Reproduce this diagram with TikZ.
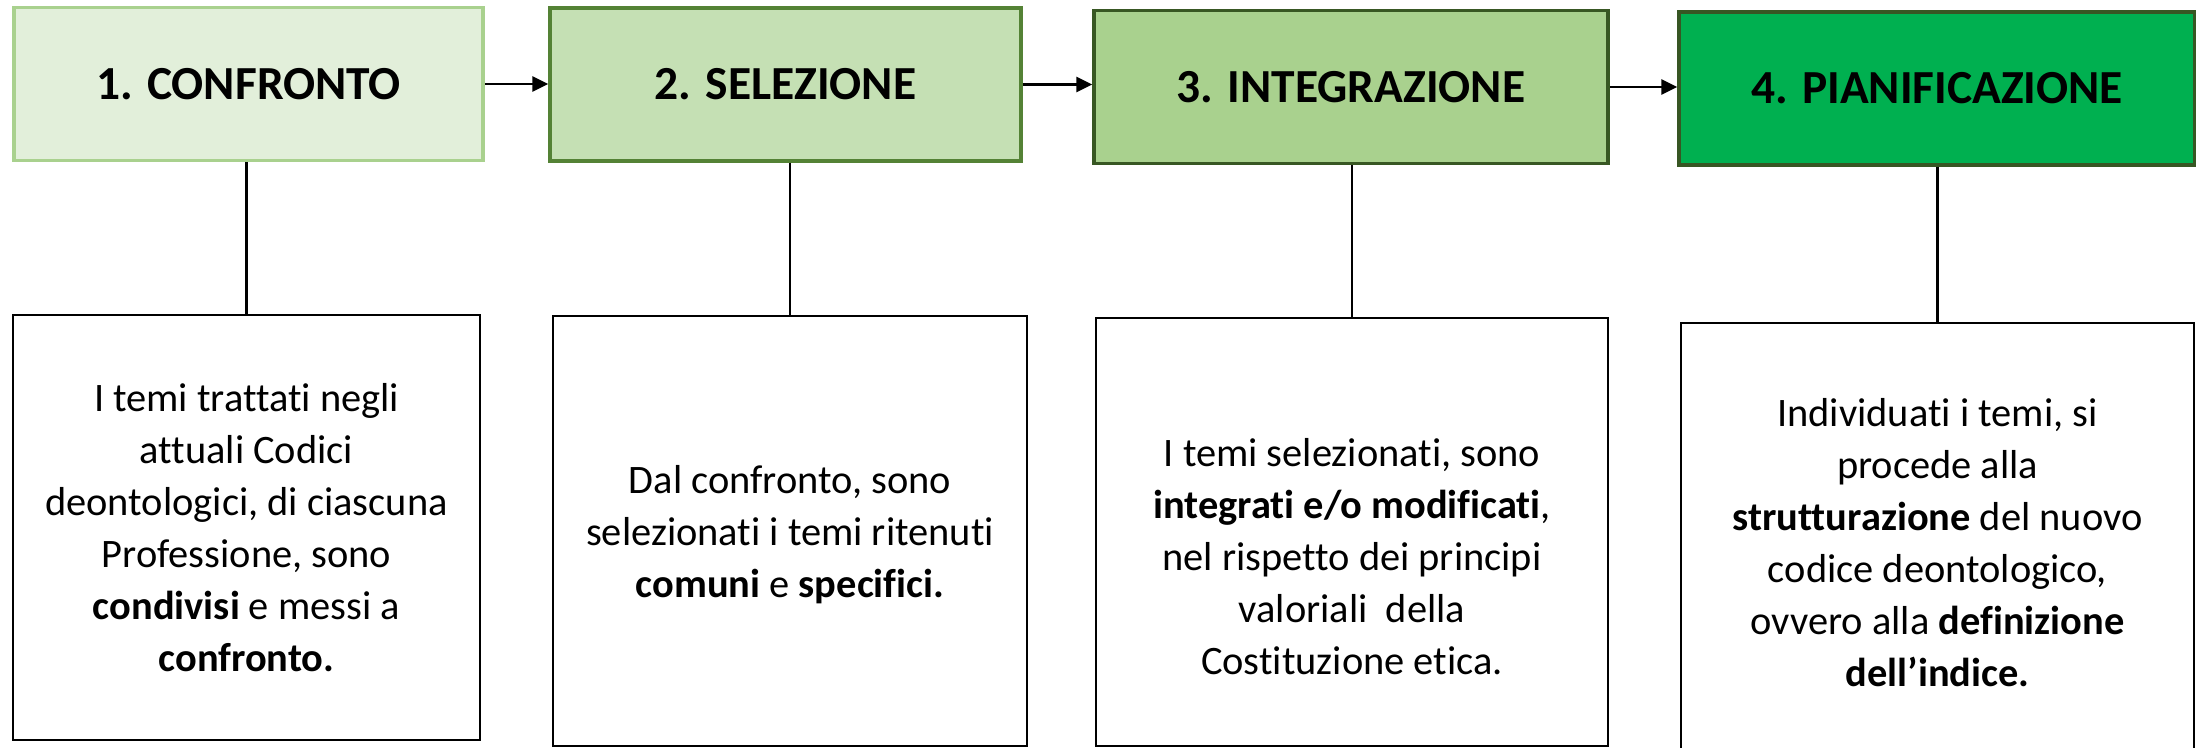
\documentclass[tikz,border=0pt]{standalone}
\usepackage{fontspec}
\setmainfont[Ligatures=NoCommon]{Carlito}
\usetikzlibrary{arrows.meta}

\definecolor{fillA}{HTML}{E2EFDA}
\definecolor{fillB}{HTML}{C5E0B4}
\definecolor{fillC}{HTML}{A9D18E}
\definecolor{fillD}{HTML}{00B050}
\definecolor{lineA}{HTML}{A9D18E}
\definecolor{lineB}{HTML}{548235}
\definecolor{lineC}{HTML}{385723}
\definecolor{lineD}{HTML}{375623}

\tikzset{
	stepbox/.style={draw, line width=1pt, minimum height=15.3mm, inner sep=0pt,
		font=\fontsize{13.5}{16}\selectfont\bfseries},
	notebox/.style={draw, line width=0.6pt, inner sep=0pt},
	notetext/.style={align=center, inner sep=0pt, font=\fontsize{11.5}{14.8}\selectfont},
	link/.style={line width=0.6pt},
}

\begin{document}
\begin{tikzpicture}[x=0.1mm, y=-0.1mm, >={Triangle[length=4.5pt,width=4.3pt]}]
		\useasboundingbox (0, 0) rectangle (2196, 748);
		% fasi
		\node[stepbox, fill=fillA, draw=lineA, minimum width=46.9mm] (t1) at (248.5, 84) {1. CONFRONTO};
		\node[stepbox, fill=fillB, draw=lineB, minimum width=47.1mm] (t2) at (785.5, 84.5) {2. SELEZIONE};
		\node[stepbox, fill=fillC, draw=lineC, minimum width=51.4mm] (t3) at (1351, 87) {3. INTEGRAZIONE};
		\node[stepbox, fill=fillD, draw=lineD, minimum width=51.6mm] (t4) at (1937, 88.5) {4. PIANIFICAZIONE};
		% riquadri
		\node[notebox, minimum width=46.7mm, minimum height=42.5mm] (b1) at (246.5, 527.5) {};
		\node[notebox, minimum width=47.4mm, minimum height=43mm] (b2) at (790, 531) {};
		\node[notebox, minimum width=51.2mm, minimum height=42.8mm] (b3) at (1352, 532) {};
		\node[notebox, minimum width=51.3mm, minimum height=44.7mm] (b4) at (1937.5, 546.5) {};
		\node[notetext] (d1) at (246.5, 528) {I temi trattati negli\\ attuali Codici\\ deontologici, di ciascuna\\ Professione, sono\\ \textbf{condivisi} e messi a\\ \textbf{confronto.}};
		\node[notetext] (d2) at (790, 535) {Dal confronto, sono\\ selezionati i temi ritenuti\\ \textbf{comuni} e \textbf{specifici.}};
		\node[notetext] (d3) at (1352, 557) {I temi selezionati, sono\\ \textbf{integrati e/o modificati},\\ nel rispetto dei principi\\ valoriali\ \ della\\ Costituzione etica.};
		\node[notetext] (d4) at (1937.5, 543) {Individuati i temi, si\\ procede alla\\ \textbf{strutturazione} del nuovo\\ codice deontologico,\\ ovvero alla \textbf{definizione}\\ \textbf{dell’indice.}};
		% collegamenti
		\draw[->, link] (t1.east) -- (t1.east -| t2.west);
		\draw[->, link] (t2.east) -- (t2.east -| t3.west);
		\draw[->, link] (t3.east) -- (t3.east -| t4.west);
		\foreach \i in {1, 2, 3, 4}
			\draw[link] (b\i.north |- t\i.south) -- (b\i.north);
\end{tikzpicture}
\end{document}
